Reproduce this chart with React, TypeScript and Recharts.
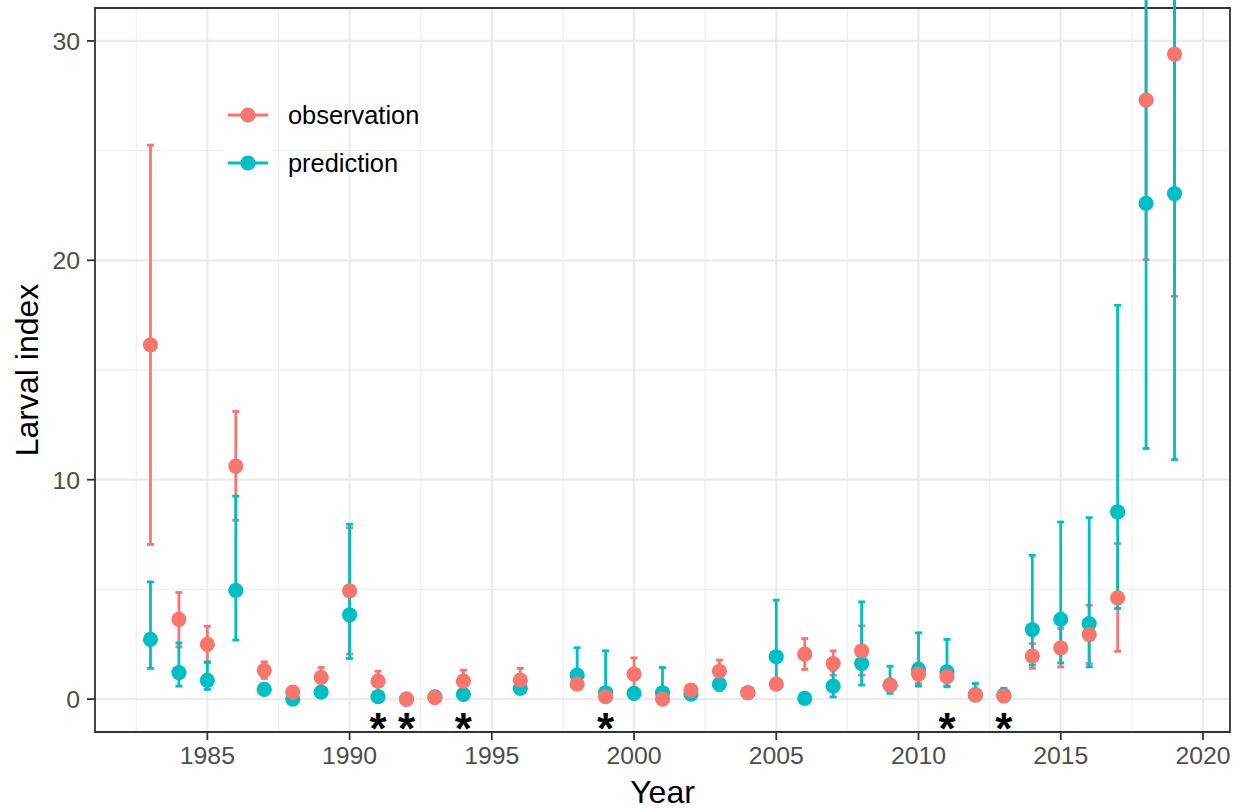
import {
  ScatterChart,
  Scatter,
  XAxis,
  YAxis,
  CartesianGrid,
  ErrorBar,
  ReferenceArea,
} from "recharts";

const years = [
  1983, 1984, 1985, 1986, 1987, 1988, 1989, 1990, 1991, 1992, 1993, 1994, 1996,
  1998, 1999, 2000, 2001, 2002, 2003, 2004, 2005, 2006, 2007, 2008, 2009, 2010,
  2011, 2012, 2013, 2014, 2015, 2016, 2017, 2018, 2019,
];

const obsValue = [
  16.15, 3.63, 2.49, 10.62, 1.31, 0.32, 0.99, 4.93, 0.82, 0.0, 0.07, 0.82, 0.86,
  0.68, 0.11, 1.14, 0.0, 0.41, 1.27, 0.29, 0.68, 2.05, 1.62, 2.2, 0.64, 1.14,
  1.02, 0.18, 0.14, 1.96, 2.34, 2.94, 4.61, 27.3, 29.4,
];
const obsLower = [
  7.05, 2.38, 1.65, 8.15, 0.94, 0.2, 0.49, 2.05, 0.33, 0.0, 0.0, 0.45, 0.26,
  0.5, 0.05, 0.49, 0.0, 0.25, 0.86, 0.15, 0.45, 1.35, 1.09, 1.09, 0.4, 0.71,
  0.6, 0.1, 0.05, 1.4, 1.47, 1.62, 2.18, 20.03, 18.36,
];
const obsUpper = [
  25.25, 4.86, 3.32, 13.11, 1.7, 0.45, 1.44, 7.81, 1.27, 0.0, 0.15, 1.32, 1.4,
  0.9, 0.3, 1.88, 0.0, 0.55, 1.78, 0.45, 0.95, 2.76, 2.2, 3.34, 0.9, 1.62,
  1.4, 0.3, 0.3, 2.53, 3.22, 4.28, 7.09, 38, 40,
];

const predValue = [
  2.72, 1.21, 0.85, 4.96, 0.44, 0.0, 0.32, 3.84, 0.11, 0.0, 0.1, 0.21, 0.49,
  1.09, 0.29, 0.26, 0.29, 0.23, 0.68, 0.29, 1.93, 0.03, 0.59, 1.62, 0.64, 1.35,
  1.24, 0.2, 0.18, 3.17, 3.63, 3.44, 8.53, 22.6, 23.04,
];
const predLower = [
  1.4, 0.59, 0.44, 2.69, 0.3, 0.0, 0.2, 1.85, 0.03, 0.0, 0.02, 0.05, 0.3,
  0.56, 0.0, 0.1, 0.05, 0.1, 0.4, 0.15, 0.79, 0.0, 0.1, 0.64, 0.26, 0.59,
  0.56, 0.03, 0.0, 1.55, 1.65, 1.47, 4.13, 11.42, 10.92,
];
const predUpper = [
  5.34, 2.56, 1.7, 9.25, 0.6, 0.05, 0.5, 7.97, 0.25, 0.05, 0.22, 0.45, 0.85,
  2.34, 2.2, 0.5, 1.44, 0.5, 1.01, 0.45, 4.51, 0.1, 1.32, 4.43, 1.5, 3.02,
  2.72, 0.71, 0.49, 6.55, 8.07, 8.27, 17.95, 40, 42,
];

// years flagged with an asterisk under the points
const starYears = [1991, 1992, 1994, 1999, 2011, 2013];
const starLevel = -1.12;

const xTicks = [1985, 1990, 1995, 2000, 2005, 2010, 2015, 2020];
const xMinor = [1982.5, 1987.5, 1992.5, 1997.5, 2002.5, 2007.5, 2012.5, 2017.5];
const yTicks = [0, 10, 20, 30];
const yMinor = [5, 15, 25];
const xDomain = [1981.05, 2020.95];
const yDomain = [-1.5, 31.5];

const OBS = "#F8766D";
const PRED = "#00BFC4";
const FONT = '"Liberation Sans", Arial, Helvetica, sans-serif';

const build = (value: number[], lower: number[], upper: number[]) =>
  years.map((year, i) => ({
    year,
    value: value[i],
    err: [value[i] - lower[i], upper[i] - value[i]],
  }));

const obsData = build(obsValue, obsLower, obsUpper);
const predData = build(predValue, predLower, predUpper);
const starData = starYears.map((year) => ({ year, value: starLevel }));

const dot = (color: string) => (p: any) =>
  <circle cx={p.cx} cy={p.cy} r={7.6} fill={color} />;

const noShape = () => <g />;

const star = (p: any) => (
  <text
    x={p.cx}
    y={p.cy + 20}
    textAnchor="middle"
    fontSize={44}
    fontWeight="bold"
    fontFamily={FONT}
    fill="#000"
  >
    *
  </text>
);

const tickStyle = { fill: "#4D4D4D", fontSize: 24.8, fontFamily: FONT };
const tickLine = { stroke: "#333333", strokeWidth: 1.8 };

const legendItems = [
  { label: "observation", color: OBS },
  { label: "prediction", color: PRED },
];

const ChartLegend = () => (
  <svg
    width={260}
    height={120}
    style={{ position: "absolute", left: 210, top: 80, pointerEvents: "none" }}
  >
    <rect x={13} y={10} width={50} height={98} fill="#fff" />
    {legendItems.map((item, i) => {
      const cy = 35 + i * 48;
      return (
        <g key={item.label}>
          <line x1={18} x2={58} y1={cy} y2={cy} stroke={item.color} strokeWidth={2.8} />
          <circle cx={38} cy={cy} r={7.6} fill={item.color} />
          <text x={78} y={cy + 8.5} fontSize={25.4} fontFamily={FONT} fill="#000">
            {item.label}
          </text>
        </g>
      );
    })}
  </svg>
);

export default function App() {
  return (
    <div
      style={{
        position: "absolute",
        left: 0,
        top: 0,
        width: 1242,
        height: 809,
        background: "#fff",
      }}
    >
      <ScatterChart
        width={1242}
        height={809}
        margin={{ top: 8, right: 12, bottom: 0, left: 0 }}
      >
        <CartesianGrid
          horizontalValues={yMinor}
          verticalValues={xMinor}
          stroke="#F0F0F0"
          strokeWidth={1.3}
        />
        <CartesianGrid
          horizontalValues={yTicks}
          verticalValues={xTicks}
          stroke="#EBEBEB"
          strokeWidth={2.2}
        />
        <XAxis
          type="number"
          dataKey="year"
          domain={xDomain}
          allowDataOverflow
          ticks={xTicks}
          interval={0}
          height={77}
          tickSize={8}
          tickMargin={6}
          tick={tickStyle}
          tickLine={tickLine}
          axisLine={false}
          label={{
            content: ({ viewBox }: any) => (
              <text
                x={viewBox.x + viewBox.width / 2}
                y={803}
                textAnchor="middle"
                fontSize={32}
                fontFamily={FONT}
                fill="#000"
              >
                Year
              </text>
            ),
          }}
        />
        <YAxis
          type="number"
          dataKey="value"
          domain={yDomain}
          allowDataOverflow
          ticks={yTicks}
          interval={0}
          width={95}
          tickSize={8}
          tickMargin={7}
          tick={tickStyle}
          tickLine={tickLine}
          axisLine={false}
          label={{
            content: ({ viewBox }: any) => {
              const cy = viewBox.y + viewBox.height / 2;
              return (
                <text
                  x={38}
                  y={cy}
                  transform={`rotate(-90, 38, ${cy})`}
                  textAnchor="middle"
                  fontSize={32}
                  fontFamily={FONT}
                  fill="#000"
                >
                  Larval index
                </text>
              );
            },
          }}
        />
        <Scatter data={predData} dataKey="value" shape={dot(PRED)} isAnimationActive={false} />
        <Scatter data={obsData} dataKey="value" shape={dot(OBS)} isAnimationActive={false} />
        <Scatter data={obsData} dataKey="value" shape={noShape} isAnimationActive={false}>
          <ErrorBar
            dataKey="err"
            direction="y"
            width={3.5}
            stroke={OBS}
            strokeWidth={2.8}
            isAnimationActive={false}
          />
        </Scatter>
        <Scatter data={predData} dataKey="value" shape={noShape} isAnimationActive={false}>
          <ErrorBar
            dataKey="err"
            direction="y"
            width={3.5}
            stroke={PRED}
            strokeWidth={2.8}
            isAnimationActive={false}
          />
        </Scatter>
        <Scatter data={starData} dataKey="value" shape={star} isAnimationActive={false} />
        <ReferenceArea
          x1={xDomain[0]}
          x2={xDomain[1]}
          y1={yDomain[0]}
          y2={yDomain[1]}
          fill="none"
          stroke="#333333"
          strokeWidth={1.8}
          ifOverflow="visible"
        />
      </ScatterChart>
      <ChartLegend />
    </div>
  );
}
